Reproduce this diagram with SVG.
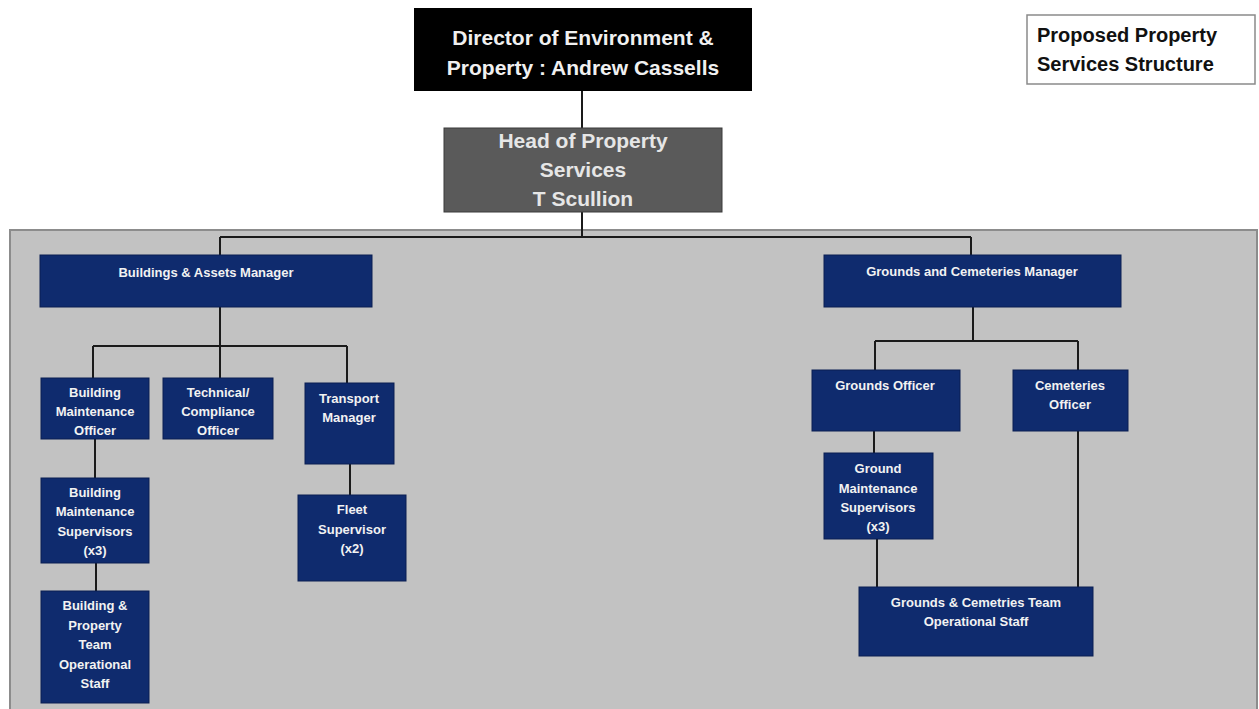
<svg xmlns="http://www.w3.org/2000/svg" width="1259" height="709" viewBox="0 0 1259 709">
<style>
.nav{fill:#0f2b6e;stroke:#0a1f52;stroke-width:1}
.nt{font-family:"Liberation Sans",Arial,sans-serif;font-weight:bold;font-size:13px;fill:#f2f2f2;text-anchor:middle}
.big{font-family:"Liberation Sans",Arial,sans-serif;font-weight:bold;font-size:21px;text-anchor:middle}
.ln{stroke:#1a1a1a;stroke-width:2;fill:none}
.tt{font-family:"Liberation Sans",Arial,sans-serif;font-weight:bold;font-size:20px;fill:#111}
</style>
<rect width="1259" height="709" fill="#ffffff"/>
<rect id="panel" x="10" y="230" width="1247" height="485" fill="#c2c2c2" stroke="#8c8c8c" stroke-width="2"/>
<g id="connectors">
<path class="ln" d="M582 91V128"/>
<path class="ln" d="M582 212V237M220 237H971M220 237V255M971 237V255"/>
<path class="ln" d="M220 307V346M93 346H347M93 346V378M220 346V378M347 346V383"/>
<path class="ln" d="M95 439V478M96 563V591M350 464V495"/>
<path class="ln" d="M973 307V341M875 341H1078M875 341V370M1078 341V370"/>
<path class="ln" d="M874 431V453M877 539V587M1078 431V587"/>
</g>
<g id="director">
<rect x="414" y="8" width="338" height="83" fill="#000000"/>
<text class="big" x="583" y="45" fill="#f0f0f0">Director of Environment &amp;</text>
<text class="big" x="583" y="75" fill="#f0f0f0">Property : Andrew Cassells</text>
</g>
<g id="head">
<rect x="444" y="128" width="278" height="84" fill="#5a5a5a" stroke="#3a3a3a" stroke-width="1"/>
<text class="big" x="583" y="148" fill="#e6e6e6">Head of Property</text>
<text class="big" x="583" y="177" fill="#e6e6e6">Services</text>
<text class="big" x="583" y="206" fill="#e6e6e6">T Scullion</text>
</g>
<g id="title">
<rect x="1027" y="15" width="228" height="69" fill="#ffffff" stroke="#8a8a8a" stroke-width="1.5"/>
<text class="tt" x="1037" y="42">Proposed Property</text>
<text class="tt" x="1037" y="71">Services Structure</text>
</g>
<g id="bam">
<rect class="nav" x="40" y="255" width="332" height="52"/>
<text class="nt" x="206" y="277">Buildings &amp; Assets Manager</text>
</g>
<g id="bmo">
<rect class="nav" x="41" y="378" width="108" height="61"/>
<text class="nt" x="95" y="397">Building</text>
<text class="nt" x="95" y="416">Maintenance</text>
<text class="nt" x="95" y="435">Officer</text>
</g>
<g id="tco">
<rect class="nav" x="163" y="378" width="110" height="61"/>
<text class="nt" x="218" y="397">Technical/</text>
<text class="nt" x="218" y="416">Compliance</text>
<text class="nt" x="218" y="435">Officer</text>
</g>
<g id="tm">
<rect class="nav" x="305" y="383" width="89" height="81"/>
<text class="nt" x="349" y="403">Transport</text>
<text class="nt" x="349" y="422">Manager</text>
</g>
<g id="bms">
<rect class="nav" x="41" y="478" width="108" height="85"/>
<text class="nt" x="95" y="497">Building</text>
<text class="nt" x="95" y="516">Maintenance</text>
<text class="nt" x="95" y="536">Supervisors</text>
<text class="nt" x="95" y="555">(x3)</text>
</g>
<g id="bpt">
<rect class="nav" x="41" y="591" width="108" height="112"/>
<text class="nt" x="95" y="610">Building &amp;</text>
<text class="nt" x="95" y="630">Property</text>
<text class="nt" x="95" y="649">Team</text>
<text class="nt" x="95" y="669">Operational</text>
<text class="nt" x="95" y="688">Staff</text>
</g>
<g id="fleet">
<rect class="nav" x="298" y="495" width="108" height="86"/>
<text class="nt" x="352" y="514">Fleet</text>
<text class="nt" x="352" y="534">Supervisor</text>
<text class="nt" x="352" y="553">(x2)</text>
</g>
<g id="gcm">
<rect class="nav" x="824" y="255" width="297" height="52"/>
<text class="nt" x="972" y="276">Grounds and Cemeteries Manager</text>
</g>
<g id="go">
<rect class="nav" x="812" y="370" width="148" height="61"/>
<text class="nt" x="885" y="390">Grounds  Officer</text>
</g>
<g id="co">
<rect class="nav" x="1013" y="370" width="115" height="61"/>
<text class="nt" x="1070" y="390">Cemeteries</text>
<text class="nt" x="1070" y="409">Officer</text>
</g>
<g id="gms">
<rect class="nav" x="824" y="453" width="109" height="86"/>
<text class="nt" x="878" y="473">Ground</text>
<text class="nt" x="878" y="493">Maintenance</text>
<text class="nt" x="878" y="512">Supervisors</text>
<text class="nt" x="878" y="531">(x3)</text>
</g>
<g id="gct">
<rect class="nav" x="859" y="587" width="234" height="69"/>
<text class="nt" x="976" y="607">Grounds &amp; Cemetries Team</text>
<text class="nt" x="976" y="626">Operational Staff</text>
</g>
</svg>
